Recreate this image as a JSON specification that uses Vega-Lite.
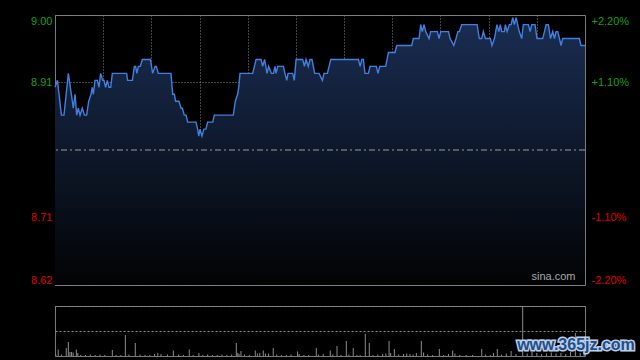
{
  "$schema": "https://vega.github.io/schema/vega-lite/v6.json",
  "background": "#000000",
  "autosize": {"type": "pad"},
  "padding": {"left": 30, "top": 14, "right": 20, "bottom": 20},
  "bounds": "flush",
  "spacing": 21,
  "config": {
    "view": {"stroke": "#7a7a7a", "strokeWidth": 1},
    "axis": {"labelFont": "Liberation Sans", "labelFontSize": 11, "titleFont": "Liberation Sans"}
  },
  "datasets": {
    "price": [
      {"m": 0, "p": 8.90}, {"m": 1.5, "p": 8.91}, {"m": 4, "p": 8.86}, {"m": 5.6, "p": 8.86}, {"m": 8.3, "p": 8.92},
      {"m": 10.8, "p": 8.88}, {"m": 11.4, "p": 8.87}, {"m": 12.5, "p": 8.89}, {"m": 13.5, "p": 8.86}, {"m": 14.5, "p": 8.87},
      {"m": 15.6, "p": 8.86}, {"m": 17, "p": 8.87}, {"m": 18.3, "p": 8.86}, {"m": 19.7, "p": 8.86}, {"m": 21, "p": 8.88},
      {"m": 22.4, "p": 8.89}, {"m": 23.2, "p": 8.90}, {"m": 23.9, "p": 8.89}, {"m": 24.9, "p": 8.91}, {"m": 26.4, "p": 8.91},
      {"m": 27.4, "p": 8.90}, {"m": 28.4, "p": 8.92}, {"m": 29.7, "p": 8.91}, {"m": 30.5, "p": 8.91}, {"m": 31.5, "p": 8.90},
      {"m": 32.6, "p": 8.91}, {"m": 33.6, "p": 8.90}, {"m": 34.7, "p": 8.90}, {"m": 35.7, "p": 8.92}, {"m": 44.6, "p": 8.92},
      {"m": 45.2, "p": 8.91}, {"m": 48.2, "p": 8.91}, {"m": 49.4, "p": 8.93}, {"m": 50.2, "p": 8.93}, {"m": 51, "p": 8.92},
      {"m": 51.9, "p": 8.93}, {"m": 53.1, "p": 8.93}, {"m": 54.4, "p": 8.94}, {"m": 59.4, "p": 8.94}, {"m": 60.8, "p": 8.92},
      {"m": 62.3, "p": 8.93}, {"m": 63.1, "p": 8.93}, {"m": 64.3, "p": 8.92}, {"m": 72.2, "p": 8.92}, {"m": 73.3, "p": 8.89},
      {"m": 74.3, "p": 8.89}, {"m": 75.1, "p": 8.88}, {"m": 77.2, "p": 8.88}, {"m": 78.5, "p": 8.87}, {"m": 79.3, "p": 8.87},
      {"m": 80.5, "p": 8.86}, {"m": 81.6, "p": 8.86}, {"m": 82.6, "p": 8.85}, {"m": 87.8, "p": 8.85}, {"m": 88.8, "p": 8.84},
      {"m": 89.5, "p": 8.83}, {"m": 90.3, "p": 8.84}, {"m": 91.5, "p": 8.83}, {"m": 92.7, "p": 8.84}, {"m": 94, "p": 8.84},
      {"m": 95, "p": 8.85}, {"m": 98.2, "p": 8.85}, {"m": 99.2, "p": 8.86}, {"m": 111, "p": 8.86}, {"m": 112.3, "p": 8.88},
      {"m": 113.7, "p": 8.89}, {"m": 114.4, "p": 8.90}, {"m": 115.2, "p": 8.92}, {"m": 123.1, "p": 8.92}, {"m": 125.2, "p": 8.94},
      {"m": 128.3, "p": 8.94}, {"m": 129.3, "p": 8.93}, {"m": 130.5, "p": 8.94}, {"m": 132, "p": 8.92}, {"m": 133, "p": 8.93},
      {"m": 134.7, "p": 8.92}, {"m": 136, "p": 8.92}, {"m": 137, "p": 8.93}, {"m": 137.6, "p": 8.92}, {"m": 138.7, "p": 8.93},
      {"m": 142.2, "p": 8.93}, {"m": 143.2, "p": 8.92}, {"m": 144.3, "p": 8.91}, {"m": 145.1, "p": 8.92}, {"m": 148, "p": 8.92},
      {"m": 149, "p": 8.91}, {"m": 150.1, "p": 8.94}, {"m": 154.2, "p": 8.94}, {"m": 155.3, "p": 8.93}, {"m": 156.3, "p": 8.94},
      {"m": 157.7, "p": 8.93}, {"m": 158.8, "p": 8.94}, {"m": 160, "p": 8.94}, {"m": 161.7, "p": 8.92}, {"m": 164.4, "p": 8.92},
      {"m": 166.5, "p": 8.91}, {"m": 167.5, "p": 8.92}, {"m": 169.6, "p": 8.92}, {"m": 171.7, "p": 8.94}, {"m": 188.9, "p": 8.94},
      {"m": 190, "p": 8.93}, {"m": 191, "p": 8.94}, {"m": 192, "p": 8.94}, {"m": 193, "p": 8.92}, {"m": 195.1, "p": 8.92},
      {"m": 196.2, "p": 8.93}, {"m": 200.1, "p": 8.93}, {"m": 201.1, "p": 8.92}, {"m": 202.2, "p": 8.93}, {"m": 205.9, "p": 8.93},
      {"m": 207.6, "p": 8.95}, {"m": 211.7, "p": 8.95}, {"m": 212.8, "p": 8.96}, {"m": 222.1, "p": 8.96}, {"m": 223.1, "p": 8.97},
      {"m": 226.7, "p": 8.97}, {"m": 227.7, "p": 8.99}, {"m": 228.7, "p": 8.98}, {"m": 229.8, "p": 8.99}, {"m": 230.8, "p": 8.98},
      {"m": 232.9, "p": 8.97}, {"m": 233.9, "p": 8.98}, {"m": 238.1, "p": 8.98}, {"m": 239.1, "p": 8.97}, {"m": 240.2, "p": 8.98},
      {"m": 245, "p": 8.98}, {"m": 246, "p": 8.97}, {"m": 248.3, "p": 8.96}, {"m": 249.7, "p": 8.97}, {"m": 250.8, "p": 8.98},
      {"m": 251.8, "p": 8.98}, {"m": 253.2, "p": 8.99}, {"m": 262.8, "p": 8.99}, {"m": 264.2, "p": 8.97}, {"m": 265.7, "p": 8.97},
      {"m": 266.7, "p": 8.98}, {"m": 268, "p": 8.97}, {"m": 271.1, "p": 8.97}, {"m": 272.1, "p": 8.96}, {"m": 273.6, "p": 8.97},
      {"m": 275.2, "p": 8.99}, {"m": 276.3, "p": 8.98}, {"m": 277.3, "p": 8.99}, {"m": 278.1, "p": 8.98}, {"m": 279.8, "p": 8.98},
      {"m": 280.4, "p": 8.99}, {"m": 281.5, "p": 8.98}, {"m": 282.9, "p": 8.99}, {"m": 284, "p": 8.99}, {"m": 285, "p": 9.00},
      {"m": 286, "p": 8.99}, {"m": 287.1, "p": 9.00}, {"m": 289.1, "p": 8.98}, {"m": 290.6, "p": 8.97}, {"m": 291.6, "p": 8.99},
      {"m": 294.8, "p": 8.99}, {"m": 295.8, "p": 8.98}, {"m": 296.8, "p": 8.99}, {"m": 298.9, "p": 8.99}, {"m": 300.1, "p": 8.97},
      {"m": 303.7, "p": 8.97}, {"m": 305.8, "p": 8.99}, {"m": 307.2, "p": 8.99}, {"m": 308.5, "p": 8.97}, {"m": 309.9, "p": 8.98},
      {"m": 311, "p": 8.97}, {"m": 312, "p": 8.98}, {"m": 313, "p": 8.98}, {"m": 314.1, "p": 8.97}, {"m": 315.1, "p": 8.96},
      {"m": 316.1, "p": 8.97}, {"m": 326.5, "p": 8.97}, {"m": 327.5, "p": 8.96}, {"m": 330, "p": 8.96}
    ],
    "vol": [
      {"m": 0.5, "v": 0.03}, {"m": 2, "v": 0.13}, {"m": 4, "v": 0.03}, {"m": 7, "v": 0.16}, {"m": 8.3, "v": 0.28},
      {"m": 9.3, "v": 0.08}, {"m": 10.3, "v": 0.08}, {"m": 11.3, "v": 0.07}, {"m": 13.3, "v": 0.13}, {"m": 14.2, "v": 0.06},
      {"m": 16, "v": 0.02}, {"m": 19, "v": 0.02}, {"m": 22, "v": 0.03}, {"m": 25, "v": 0.02}, {"m": 28, "v": 0.03},
      {"m": 31, "v": 0.02}, {"m": 35.7, "v": 0.12}, {"m": 38, "v": 0.02}, {"m": 41, "v": 0.02}, {"m": 43.8, "v": 0.42},
      {"m": 46, "v": 0.03}, {"m": 50, "v": 0.26}, {"m": 53, "v": 0.03}, {"m": 56, "v": 0.02}, {"m": 59, "v": 0.02},
      {"m": 62, "v": 0.04}, {"m": 64, "v": 0.06}, {"m": 66, "v": 0.04}, {"m": 70, "v": 0.03}, {"m": 73.7, "v": 0.11},
      {"m": 77, "v": 0.03}, {"m": 80, "v": 0.02}, {"m": 83.6, "v": 0.13}, {"m": 86, "v": 0.02}, {"m": 89.6, "v": 0.06},
      {"m": 92, "v": 0.02}, {"m": 95, "v": 0.03}, {"m": 98, "v": 0.02}, {"m": 101, "v": 0.02}, {"m": 104, "v": 0.03},
      {"m": 107, "v": 0.02}, {"m": 110, "v": 0.03}, {"m": 112.9, "v": 0.26}, {"m": 113.8, "v": 0.06}, {"m": 114.6, "v": 0.04},
      {"m": 115.8, "v": 0.10}, {"m": 118, "v": 0.03}, {"m": 121, "v": 0.02}, {"m": 124.7, "v": 0.11}, {"m": 126, "v": 0.05},
      {"m": 127.5, "v": 0.06}, {"m": 129.7, "v": 0.11}, {"m": 131, "v": 0.05}, {"m": 133, "v": 0.05}, {"m": 135.9, "v": 0.16},
      {"m": 138, "v": 0.03}, {"m": 141, "v": 0.02}, {"m": 144, "v": 0.02}, {"m": 147, "v": 0.03}, {"m": 151, "v": 0.09},
      {"m": 152, "v": 0.04}, {"m": 155, "v": 0.02}, {"m": 158, "v": 0.02}, {"m": 162.7, "v": 0.16}, {"m": 164, "v": 0.03},
      {"m": 167, "v": 0.04}, {"m": 171.4, "v": 0.11}, {"m": 173, "v": 0.03}, {"m": 175.6, "v": 0.20}, {"m": 178, "v": 0.02},
      {"m": 181.4, "v": 0.30}, {"m": 183, "v": 0.03}, {"m": 185.7, "v": 0.16}, {"m": 188, "v": 0.02}, {"m": 190, "v": 0.02},
      {"m": 193.2, "v": 0.44}, {"m": 195.7, "v": 0.26}, {"m": 198, "v": 0.02}, {"m": 201, "v": 0.03}, {"m": 204, "v": 0.04},
      {"m": 206, "v": 0.05}, {"m": 208, "v": 0.30}, {"m": 209, "v": 0.06}, {"m": 211.3, "v": 0.14}, {"m": 214, "v": 0.03},
      {"m": 217, "v": 0.04}, {"m": 219, "v": 0.05}, {"m": 221, "v": 0.04}, {"m": 223, "v": 0.03}, {"m": 225, "v": 0.06},
      {"m": 228.1, "v": 0.30}, {"m": 229.5, "v": 0.07}, {"m": 232, "v": 0.03}, {"m": 235, "v": 0.02}, {"m": 239.3, "v": 0.14},
      {"m": 242, "v": 0.02}, {"m": 245, "v": 0.04}, {"m": 247.6, "v": 0.11}, {"m": 249, "v": 0.05}, {"m": 252, "v": 0.02},
      {"m": 256, "v": 0.02}, {"m": 260, "v": 0.02}, {"m": 265.7, "v": 0.14}, {"m": 268, "v": 0.03}, {"m": 271, "v": 0.02},
      {"m": 273, "v": 0.06}, {"m": 275.4, "v": 0.14}, {"m": 278, "v": 0.03}, {"m": 281, "v": 0.05}, {"m": 284, "v": 0.10},
      {"m": 287, "v": 0.04}, {"m": 291.2, "v": 1.0}, {"m": 294, "v": 0.05}, {"m": 297, "v": 0.08}, {"m": 300, "v": 0.06},
      {"m": 303, "v": 0.04}, {"m": 306, "v": 0.05}, {"m": 309, "v": 0.07}, {"m": 312, "v": 0.05}, {"m": 315, "v": 0.06},
      {"m": 318, "v": 0.04}, {"m": 321, "v": 0.08}, {"m": 324, "v": 0.46}, {"m": 327, "v": 0.06}, {"m": 329.5, "v": 0.08}
    ]
  },
  "vconcat": [
    {
      "width": 530,
      "height": 270,
      "layer": [
        {
          "layer": [
            {
              "data": {"name": "price"},
              "mark": {
                "type": "area",
                "color": {
                  "gradient": "linear", "x1": 0, "y1": 0, "x2": 0, "y2": 1,
                  "stops": [{"offset": 0, "color": "#1a2d52"}, {"offset": 1, "color": "#020304"}]
                }
              },
              "encoding": {
                "x": {"field": "m", "type": "quantitative", "scale": {"domain": [0, 330], "nice": false},
                  "axis": {"values": [30, 60, 90, 120, 150, 180, 210, 240, 270, 300], "grid": true, "gridDash": [1, 2], "gridColor": "#8a8a8a",
                    "labels": false, "ticks": false, "domain": false, "title": null}},
                "y": {"field": "p", "type": "quantitative", "scale": {"domain": [8.6162, 9.0038], "nice": false, "zero": false},
                  "axis": {"values": [8.6162, 8.7131, 8.9069, 9.0038], "format": ".2f", "grid": true, "gridDash": [1, 2], "gridColor": "#8a8a8a",
                    "ticks": false, "domain": false, "title": null, "labelFlush": true, "labelPadding": 3,
                    "labelColor": {"condition": {"test": "datum.value > 8.81", "value": "#12a012"}, "value": "#e00000"}}},
                "y2": {"datum": 8.6162}
              }
            },
            {
              "data": {"name": "price"},
              "mark": {"type": "line", "color": "#3f80e0", "strokeWidth": 1.4},
              "encoding": {
                "x": {"field": "m", "type": "quantitative"},
                "y": {"field": "p", "type": "quantitative"}
              }
            },
            {
              "data": {"values": [{"m": 310.4, "p": 8.6275, "t": "sina.com"}]},
              "mark": {"type": "text", "color": "#a8a8a8", "font": "Liberation Sans", "fontSize": 11, "align": "center", "baseline": "middle"},
              "encoding": {
                "x": {"field": "m", "type": "quantitative"},
                "y": {"field": "p", "type": "quantitative"},
                "text": {"field": "t"}
              }
            }
          ]
        },
        {
          "data": {"values": [{"pct": 0}]},
          "mark": {"type": "rule", "color": "#9a9a9a", "strokeDash": [6, 3, 2, 3], "strokeWidth": 1},
          "encoding": {
            "y": {"field": "pct", "type": "quantitative", "scale": {"domain": [-2.2, 2.2], "nice": false, "zero": false},
              "axis": {"orient": "right", "values": [-2.2, -1.1, 1.1, 2.2],
                "labelExpr": "(datum.value > 0 ? '+' : '-') + format(abs(datum.value), '.2f') + '%'",
                "grid": false, "ticks": false, "domain": false, "title": null, "labelFlush": true, "labelPadding": 6,
                "labelColor": {"condition": {"test": "datum.value > 0", "value": "#12a012"}, "value": "#e00000"}}}
          }
        }
      ],
      "resolve": {"scale": {"y": "independent"}}
    },
    {
      "width": 530,
      "height": 50,
      "layer": [
        {
          "data": {"name": "vol"},
          "mark": {"type": "rule", "color": "#8c8c8c", "strokeWidth": 1},
          "encoding": {
            "x": {"field": "m", "type": "quantitative", "scale": {"domain": [0, 330], "nice": false}, "axis": null},
            "y": {"field": "v", "type": "quantitative", "scale": {"domain": [0, 1], "nice": false},
              "axis": {"values": [0.5, 1], "grid": true, "gridDash": [2, 2], "gridColor": "#8a8a8a",
                "labels": false, "ticks": false, "domain": false, "title": null}},
            "y2": {"datum": 0}
          }
        },
        {
          "data": {"values": [{"m": 324.4, "v": 0.22, "t": "www.365jz.com"}]},
          "mark": {"type": "text", "font": "Liberation Sans", "fontWeight": "bold", "fontSize": 16, "align": "center", "baseline": "middle",
            "fill": "#bcd0e6", "stroke": "#bcd0e6", "strokeWidth": 3},
          "encoding": {
            "x": {"field": "m", "type": "quantitative"},
            "y": {"field": "v", "type": "quantitative"},
            "text": {"field": "t"}
          }
        },
        {
          "data": {"values": [{"m": 324.4, "v": 0.22, "t": "www.365jz.com"}]},
          "mark": {"type": "text", "font": "Liberation Sans", "fontWeight": "bold", "fontSize": 16, "align": "center", "baseline": "middle",
            "fill": "#1e4c8c"},
          "encoding": {
            "x": {"field": "m", "type": "quantitative"},
            "y": {"field": "v", "type": "quantitative"},
            "text": {"field": "t"}
          }
        }
      ]
    }
  ]
}
